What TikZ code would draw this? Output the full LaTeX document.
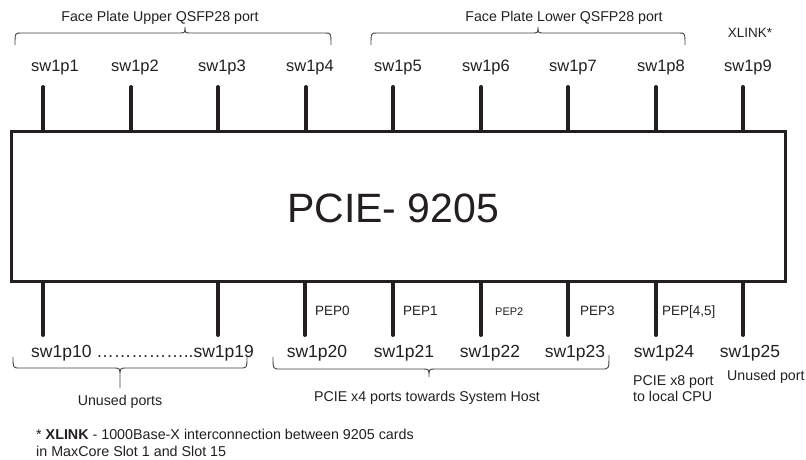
\documentclass[tikz,border=0pt]{standalone}
\usepackage{fontspec}
\setmainfont{Liberation Sans}
\definecolor{ink}{HTML}{231F20}
\tikzset{
  chipbox/.style={draw=ink, line width=3pt, fill=white},
  pinline/.style={draw=ink, line width=4pt, line cap=round},
  bracel/.style={draw=ink!85, line width=0.9pt},
  portlbl/.style={inner sep=0pt, text=ink, font=\fontsize{16.5}{19}\selectfont},
  portlblb/.style={inner sep=0pt, text=ink, font=\fontsize{17.5}{20}\selectfont},
  smalllbl/.style={inner sep=0pt, text=ink, font=\fontsize{14.2}{17}\selectfont},
  peplbl/.style={inner sep=0pt, text=ink, font=\fontsize{13.5}{16}\selectfont, anchor=base west},
  notelbl/.style={inner sep=0pt, text=ink, font=\fontsize{14.3}{16}\selectfont, anchor=base west},
}
\begin{document}
\begin{tikzpicture}[x=1pt,y=-1pt]
\useasboundingbox (0,0) rectangle (806,459);

% chip
\node[chipbox, minimum width=774pt, minimum height=150pt, inner sep=0pt, anchor=north west] (chip) at (10,130) {};
\node[inner sep=0pt, text=ink, font=\fontsize{41}{45}\selectfont, anchor=base west] (title) at (287,222) {PCIE- 9205};

% top pins
\foreach \i/\x in {1/43,2/131,3/218,4/306,5/393,6/481,7/568,8/656,9/743}{
  \coordinate (t\i) at (\x,87);
  \draw[pinline] (t\i) -- (t\i |- chip.north);
}
% bottom pins
\foreach \i/\x in {10/43,19/218,20/305,21/393,22/481,23/568,24/656,25/743}{
  \coordinate (b\i) at (\x,335);
  \draw[pinline] (b\i) -- (b\i |- chip.south);
}

% top labels
\node[portlbl, anchor=base] (l1) at (55,71) {sw1p1};
\node[portlbl, anchor=base] (l2) at (135,71) {sw1p2};
\node[portlbl, anchor=base] (l3) at (222,71) {sw1p3};
\node[portlbl, anchor=base] (l4) at (310,71) {sw1p4};
\node[portlbl, anchor=base] (l5) at (398,71) {sw1p5};
\node[portlbl, anchor=base] (l6) at (486,71) {sw1p6};
\node[portlbl, anchor=base] (l7) at (573,71) {sw1p7};
\node[portlbl, anchor=base] (l8) at (661,71) {sw1p8};
\node[portlbl, anchor=base] (l9) at (748,71) {sw1p9};

% bottom labels
\node[portlblb, anchor=base west] (l10) at (31,357) {sw1p10 ……………..sw1p19};
\node[portlblb, anchor=base] (l20) at (317,357) {sw1p20};
\node[portlblb, anchor=base] (l21) at (404,357) {sw1p21};
\node[portlblb, anchor=base] (l22) at (490,357) {sw1p22};
\node[portlblb, anchor=base] (l23) at (575,357) {sw1p23};
\node[portlblb, anchor=base] (l24) at (664,357) {sw1p24};
\node[portlblb, anchor=base] (l25) at (750,357) {sw1p25};

% PEP labels
\node[peplbl] (pep0) at (315,315) {PEP0};
\node[peplbl] (pep1) at (403,315) {PEP1};
\node[peplbl, font=\fontsize{11}{13}\selectfont] (pep2) at (495,315) {PEP2};
\node[peplbl] (pep3) at (580,315) {PEP3};
\node[peplbl] (pep45) at (662,315) {PEP[4,5]};

% top braces
\draw[bracel] (15,45) .. controls (15,33) .. (21,33) -- (179,33) .. controls (185,33) .. (185,27)
  .. controls (185,33) .. (191,33) -- (325,33) .. controls (331,33) .. (331,45);
\draw[bracel] (371,45) .. controls (371,33) .. (377,33) -- (532,33) .. controls (538,33) .. (538,27)
  .. controls (538,33) .. (544,33) -- (679,33) .. controls (685,33) .. (685,45);
\node[smalllbl, anchor=base] (upper) at (160,21) {Face Plate Upper QSFP28 port};
\node[smalllbl, anchor=base] (lower) at (564,21) {Face Plate Lower QSFP28 port};
\node[smalllbl, font=\fontsize{13.5}{16}\selectfont, anchor=base] (xlink) at (750,37) {XLINK*};

% bottom braces
\draw[bracel] (13,357) .. controls (13,368) .. (20,368) -- (113,368) .. controls (120,368) .. (120,376) -- (120,388)
  -- (120,376) .. controls (120,368) .. (127,368) -- (240,368) .. controls (247,368) .. (247,357);
\draw[bracel] (273,357) .. controls (273,369) .. (280,369) -- (423,369) .. controls (429,369) .. (429,377)
  .. controls (429,369) .. (435,369) -- (602,369) .. controls (609,369) .. (609,355);
\node[smalllbl, anchor=base] (unused) at (120,405) {Unused ports};
\node[smalllbl, anchor=base] (pcie4) at (427,401) {PCIE x4 ports towards System Host};
\node[smalllbl, anchor=base west] (pcie8a) at (633,385) {PCIE x8 port};
\node[smalllbl, anchor=base west] (pcie8b) at (633,401) {to local CPU};
\node[smalllbl, anchor=base west] (unused1) at (727,380) {Unused port};

% footnote
\node[notelbl] (fn1) at (36,439) {* \textbf{XLINK} - 1000Base-X interconnection between 9205 cards};
\node[notelbl] (fn2) at (36,456) {in MaxCore Slot 1 and Slot 15};
\end{tikzpicture}
\end{document}
